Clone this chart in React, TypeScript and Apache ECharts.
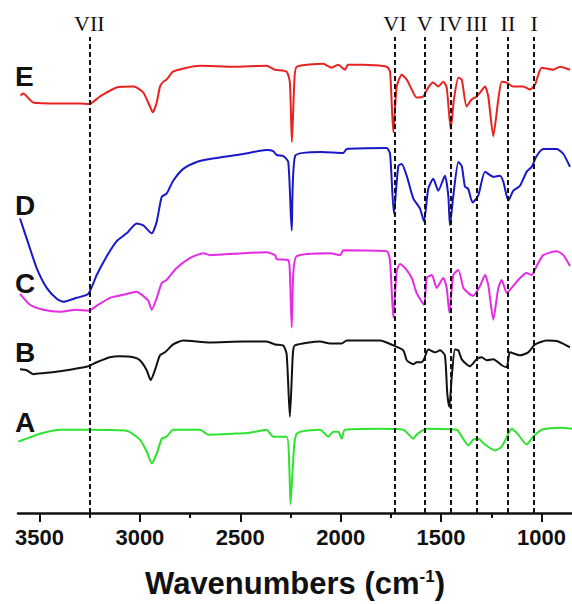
import React, { useEffect, useRef } from "react";
import * as echarts from "echarts";

// FTIR spectra (wavenumber cm-1, offset transmittance a.u.)
const spectrumE: [number, number][] = [
  [3594, 421], [3581, 423], [3531, 414], [3398, 413], [3298, 413], [3252, 412.5], [3199, 420],
  [3116, 429], [3033, 430], [3016, 429], [2983, 424], [2950, 410], [2936, 404], [2916, 414],
  [2900, 430], [2883, 435], [2867, 437], [2835, 445], [2767, 449], [2701, 451], [2536, 450],
  [2369, 451], [2327, 447], [2269, 445], [2253, 434], [2243, 374], [2231, 434], [2219, 450],
  [2087, 453], [2045, 449], [2013, 452], [1978, 447], [1964, 452], [1887, 452], [1771, 450],
  [1754, 445], [1738, 384], [1721, 430], [1696, 442], [1671, 437], [1646, 427], [1622, 419],
  [1589, 420], [1564, 429], [1539, 434], [1514, 430], [1489, 435], [1472, 429], [1452, 387],
  [1436, 417], [1414, 439], [1397, 437], [1373, 410], [1348, 417], [1323, 420], [1306, 424],
  [1281, 430], [1265, 420], [1240, 380], [1215, 417], [1198, 435], [1173, 434], [1141, 430],
  [1091, 430], [1057, 427], [1032, 432], [999, 449], [941, 447], [908, 450], [858, 447],
];

const spectrumD: [number, number][] = [
  [3597, 297], [3564, 277], [3514, 247], [3464, 227], [3414, 216], [3381, 213], [3315, 217],
  [3257, 221], [3215, 240], [3165, 259], [3116, 274], [3066, 282], [3016, 292], [2983, 290],
  [2941, 282], [2916, 294], [2891, 319], [2867, 322], [2834, 335], [2784, 347], [2717, 354],
  [2651, 357], [2485, 362], [2369, 366], [2336, 365], [2319, 361], [2286, 360], [2261, 354],
  [2244, 285], [2227, 360], [2095, 364], [1987, 363], [1970, 367], [1771, 368], [1754, 362],
  [1735, 302], [1713, 350], [1696, 352], [1671, 340], [1638, 317], [1605, 307], [1585, 294],
  [1564, 327], [1539, 337], [1514, 325], [1481, 340], [1464, 320], [1456, 290], [1439, 320],
  [1414, 354], [1397, 350], [1381, 329], [1365, 327], [1343, 313], [1315, 320], [1281, 344],
  [1240, 339], [1207, 340], [1190, 334], [1165, 315], [1140, 325], [1107, 330], [1074, 344],
  [1049, 349], [1024, 360], [991, 367], [924, 367], [891, 362], [858, 349],
];

const spectrumC: [number, number][] = [
  [3597, 221], [3547, 210], [3481, 205], [3398, 203], [3315, 205], [3257, 204], [3215, 209],
  [3149, 217], [3083, 220], [3016, 223], [2991, 220], [2958, 214], [2941, 205], [2916, 217],
  [2891, 232], [2867, 235], [2817, 247], [2751, 257], [2684, 262], [2651, 260], [2485, 262],
  [2369, 263], [2327, 260], [2319, 256], [2261, 255], [2253, 242], [2244, 187], [2236, 242],
  [2219, 259], [2053, 262], [2003, 260], [1987, 265], [1771, 264], [1754, 254], [1738, 197],
  [1721, 244], [1704, 251], [1679, 247], [1646, 237], [1622, 222], [1585, 210], [1571, 237],
  [1546, 240], [1522, 227], [1489, 237], [1472, 227], [1459, 202], [1439, 240], [1414, 245],
  [1389, 227], [1365, 222], [1340, 219], [1306, 229], [1281, 240], [1265, 230], [1240, 195],
  [1215, 227], [1198, 235], [1173, 222], [1141, 229], [1107, 237], [1074, 242], [1049, 240],
  [1024, 249], [991, 260], [924, 264], [891, 260], [858, 249],
];

const spectrumB: [number, number][] = [
  [3597, 145], [3564, 144], [3531, 140], [3481, 141], [3398, 143], [3257, 148], [3215, 152],
  [3149, 157], [3099, 158], [3033, 157], [3000, 154], [2966, 144], [2946, 134], [2925, 144],
  [2900, 159], [2875, 162], [2834, 170], [2784, 174], [2651, 172], [2485, 173], [2369, 173],
  [2327, 170], [2286, 169], [2269, 160], [2253, 97], [2238, 161], [2228, 169], [2103, 173],
  [2053, 171], [1995, 171], [1970, 174], [1804, 174], [1738, 169], [1688, 164], [1671, 154],
  [1638, 150], [1622, 152], [1597, 152], [1585, 155], [1564, 165], [1530, 162], [1505, 164],
  [1481, 159], [1469, 120], [1459, 107], [1447, 137], [1431, 165], [1414, 164], [1397, 155],
  [1356, 148], [1323, 155], [1298, 157], [1273, 154], [1240, 155], [1198, 149], [1173, 147],
  [1157, 162], [1107, 159], [1066, 162], [1032, 170], [974, 174], [916, 173], [858, 167],
];

const spectrumA: [number, number][] = [
  [3606, 72], [3564, 75], [3498, 80], [3398, 84], [3252, 84], [3066, 83], [3000, 74],
  [2966, 62], [2941, 50], [2916, 60], [2891, 75], [2867, 77], [2834, 84], [2701, 84],
  [2659, 79], [2535, 80], [2452, 81], [2369, 84], [2336, 77], [2269, 77], [2256, 47],
  [2250, 9], [2238, 47], [2219, 80], [2103, 84], [2062, 77], [2037, 82], [2012, 82],
  [1995, 75], [1979, 84], [1804, 85], [1688, 84], [1638, 75], [1622, 79], [1572, 85],
  [1422, 84], [1397, 77], [1364, 68], [1340, 74], [1315, 75], [1281, 69], [1232, 63],
  [1198, 67], [1165, 80], [1148, 85], [1116, 79], [1074, 69], [1041, 77], [999, 84],
  [908, 86], [848, 85],
];

const bandNames = ["VII", "VI", "V", "IV", "III", "II", "I"];
const bandPositions = [3252, 1730, 1582, 1452, 1323, 1167, 1037];

const sampleNames = ["E", "D", "C", "B", "A"];
const sampleColors = ["#e8231f", "#1818c8", "#e62ae6", "#111111", "#2ee32e"];
const sampleLabelY = [76, 205, 283, 352, 422];

const majorTicks = [1000, 1500, 2000, 2500, 3000, 3500];
const minorTicks = [1250, 1750, 2250, 2750, 3250];

export default function App() {
  const ref = useRef<HTMLDivElement>(null);

  useEffect(() => {
    if (!ref.current) return;
    const chart = echarts.init(ref.current, null, { renderer: "svg" });
    const spectra = [spectrumE, spectrumD, spectrumC, spectrumB, spectrumA];

    const series: any[] = spectra.map((d, i) => ({
      name: sampleNames[i],
      type: "line",
      data: d,
      showSymbol: false,
      symbol: "none",
      smooth: 0.2,
      lineStyle: { color: sampleColors[i], width: 2 },
      z: 3,
    }));

    series.push({
      type: "line",
      data: [],
      silent: true,
      markLine: {
        silent: true,
        symbol: ["none", "none"],
        lineStyle: { color: "#111", type: [5, 3], width: 2 },
        label: {
          show: true,
          position: "end",
          formatter: "{b}",
          distance: 3,
          fontFamily: "Liberation Serif",
          fontSize: 22,
          color: "#111",
        },
        data: bandPositions.map((x, i) => ({ xAxis: x, name: bandNames[i] })),
      },
      z: 1,
    });

    chart.setOption({
      animation: false,
      grid: { left: 18, right: 0, top: 37, bottom: 87 },
      xAxis: [
        {
          type: "value",
          inverse: true,
          min: 848,
          max: 3607,
          splitLine: { show: false },
          axisLine: { show: true, lineStyle: { color: "#111", width: 2.5 } },
          axisTick: {
            show: true,
            customValues: majorTicks,
            length: 9,
            inside: false,
            lineStyle: { color: "#111", width: 2 },
          },
          axisLabel: {
            show: true,
            customValues: majorTicks,
            formatter: (v: number) => String(v),
            margin: 13,
            fontSize: 22,
            fontWeight: "bold",
            fontFamily: "Liberation Sans",
            color: "#111",
          },
          name: "Wavenumbers (cm{sup|-1})",
          nameLocation: "middle",
          nameGap: 55,
          nameTextStyle: {
            fontSize: 31,
            fontWeight: "bold",
            fontFamily: "Liberation Sans",
            color: "#111",
            rich: {
              sup: {
                fontSize: 17,
                fontWeight: "bold",
                fontFamily: "Liberation Sans",
                color: "#111",
                verticalAlign: "top",
              },
            },
          },
        },
        {
          type: "value",
          inverse: true,
          min: 848,
          max: 3607,
          position: "bottom",
          splitLine: { show: false },
          axisLine: { show: false },
          axisTick: {
            show: true,
            customValues: minorTicks,
            length: 5,
            inside: false,
            lineStyle: { color: "#111", width: 2 },
          },
          axisLabel: { show: false },
        },
      ],
      yAxis: { type: "value", min: 0, max: 480, show: false },
      graphic: sampleNames.map((n, i) => ({
        type: "text",
        x: 15,
        y: sampleLabelY[i],
        style: {
          text: n,
          font: 'bold 28px "Liberation Sans"',
          fill: "#111",
          verticalAlign: "middle",
        },
      })),
      series,
    });

    return () => chart.dispose();
  }, []);

  return (
    <div
      ref={ref}
      style={{ position: "fixed", left: 0, top: 0, width: 572, height: 604, background: "#fff" }}
    />
  );
}
